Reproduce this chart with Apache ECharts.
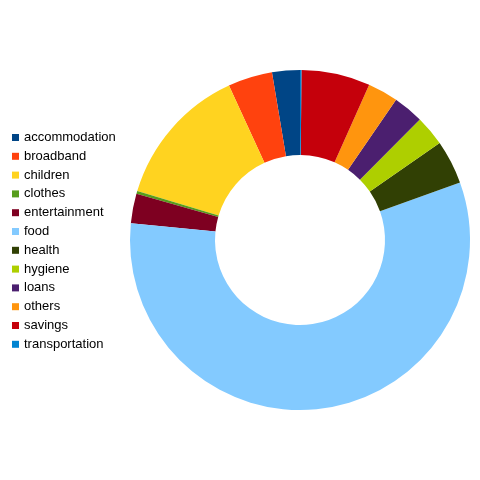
<!DOCTYPE html>
<html>
<head>
<meta charset="utf-8">
<script src="https://cdn.jsdelivr.net/npm/echarts@6/dist/echarts.min.js"></script>
<style>
  html, body { margin: 0; padding: 0; background: #fff; }
  #chart { width: 480px; height: 480px; }
</style>
</head>
<body>
<div id="chart"></div>
<script>
// 数据
var categories = ['accommodation', 'broadband', 'children', 'clothes', 'entertainment', 'food',
                  'health', 'hygiene', 'loans', 'others', 'savings', 'transportation'];
var values = [9.5, 15.2, 48.5, 1.0, 10.1, 205.4, 15.0, 10.4, 10.4, 10.4, 23.5, 0.5];
var colors = ['#004586', '#ff420e', '#ffd320', '#579d1c', '#7e0021', '#83caff',
              '#314004', '#aecf00', '#4b1f6f', '#ff950e', '#c5000b', '#0084d1'];

var chart = echarts.init(document.getElementById('chart'));

var pieData = [];
for (var i = 0; i < categories.length; i++) {
    pieData.push({ name: categories[i], value: values[i] });
}

var option = {
    animation: false,
    color: colors,
    legend: {
        orient: 'vertical',
        left: 7,
        top: 126,
        icon: 'rect',
        itemWidth: 7,
        itemHeight: 7,
        itemGap: 5.8,
        textStyle: {
            fontFamily: 'Liberation Sans',
            fontSize: 13,
            lineHeight: 13,
            color: '#000'
        },
        data: categories
    },
    series: [{
        type: 'pie',
        center: [300, 240],
        radius: [85, 170],
        startAngle: 90,
        clockwise: false,
        label: { show: false },
        labelLine: { show: false },
        itemStyle: { borderWidth: 0 },
        emphasis: { disabled: true },
        data: pieData
    }]
};

chart.setOption(option);
</script>
</body>
</html>
